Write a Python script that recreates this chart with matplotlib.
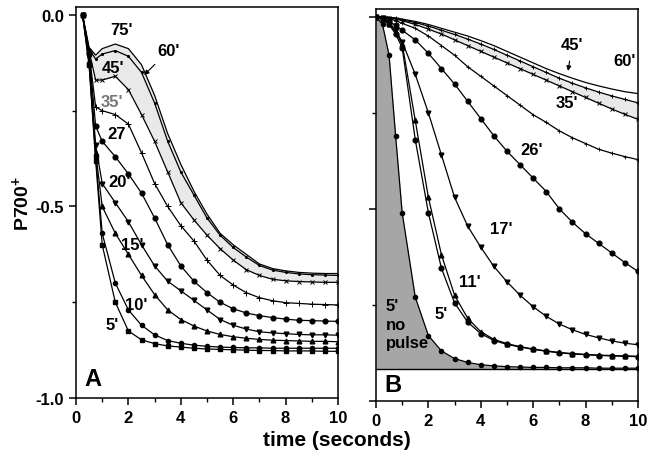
import numpy as np
import matplotlib
matplotlib.use('Agg')
import matplotlib.pyplot as plt
from matplotlib.ticker import MultipleLocator

plt.rcParams['font.family'] = ['Liberation Sans', 'DejaVu Sans']
plt.rcParams['font.weight'] = 'bold'
plt.rcParams['mathtext.fontset'] = 'custom'
plt.rcParams['mathtext.rm'] = 'Liberation Sans:bold'
plt.rcParams['mathtext.bf'] = 'Liberation Sans:bold'

# ---- panel A data (time in s, P700+ signal) ----
t_a = [0.25, 0.5, 0.75, 1.0, 1.5, 2.0, 2.5, 3.0, 3.5, 4.0, 4.5,
       5.0, 5.5, 6.0, 6.5, 7.0, 7.5, 8.0, 8.5, 9.0, 9.5, 10.0]
a_75 = [0, -0.085, -0.105, -0.088, -0.076, -0.088, -0.13, -0.21, -0.31, -0.39, -0.46,
        -0.52, -0.57, -0.60, -0.625, -0.65, -0.662, -0.668, -0.672, -0.674, -0.675, -0.675]
a_60 = [0, -0.09, -0.115, -0.102, -0.093, -0.108, -0.15, -0.23, -0.33, -0.41, -0.47,
        -0.53, -0.575, -0.607, -0.632, -0.654, -0.666, -0.672, -0.676, -0.678, -0.679, -0.68]
a_45 = [0, -0.095, -0.17, -0.17, -0.16, -0.195, -0.26, -0.33, -0.41, -0.49, -0.535,
        -0.575, -0.61, -0.64, -0.665, -0.68, -0.69, -0.694, -0.696, -0.697, -0.698, -0.698]
a_35 = [0, -0.10, -0.24, -0.25, -0.26, -0.285, -0.36, -0.44, -0.50, -0.55, -0.59,
        -0.64, -0.68, -0.705, -0.725, -0.738, -0.746, -0.751, -0.753, -0.755, -0.756, -0.757]
a_27 = [0, -0.10, -0.29, -0.33, -0.37, -0.415, -0.465, -0.53, -0.60, -0.655, -0.695,
        -0.725, -0.75, -0.767, -0.778, -0.785, -0.79, -0.794, -0.797, -0.798, -0.799, -0.80]
a_20 = [0, -0.11, -0.34, -0.44, -0.49, -0.54, -0.60, -0.655, -0.695, -0.72, -0.745,
        -0.77, -0.795, -0.81, -0.82, -0.827, -0.83, -0.832, -0.834, -0.835, -0.835, -0.836]
a_15 = [0, -0.12, -0.36, -0.50, -0.57, -0.625, -0.68, -0.73, -0.77, -0.795, -0.812,
        -0.825, -0.834, -0.84, -0.844, -0.847, -0.849, -0.85, -0.851, -0.852, -0.852, -0.853]
a_10 = [0, -0.13, -0.37, -0.57, -0.70, -0.77, -0.81, -0.835, -0.85, -0.857, -0.862,
        -0.865, -0.867, -0.868, -0.869, -0.869, -0.87, -0.87, -0.87, -0.87, -0.87, -0.87]
a_5 = [0, -0.13, -0.38, -0.60, -0.75, -0.825, -0.848, -0.858, -0.864, -0.867, -0.870,
       -0.872, -0.873, -0.874, -0.875, -0.876, -0.876, -0.877, -0.877, -0.877, -0.878, -0.878]

# ---- panel B data ----
t_b = [0, 0.25, 0.5, 0.75, 1.0, 1.5, 2.0, 2.5, 3.0, 3.5, 4.0, 4.5,
       5.0, 5.5, 6.0, 6.5, 7.0, 7.5, 8.0, 8.5, 9.0, 9.5, 10.0]
b_nopulse = [0, -0.02, -0.10, -0.31, -0.51, -0.73, -0.83, -0.87, -0.89, -0.90, -0.906, -0.909,
             -0.911, -0.912, -0.913, -0.913, -0.914, -0.914, -0.914, -0.915, -0.915, -0.915, -0.915]
b_5 = [0, -0.005, -0.02, -0.045, -0.08, -0.32, -0.51, -0.655, -0.745, -0.795, -0.825, -0.843,
       -0.853, -0.86, -0.866, -0.871, -0.875, -0.878, -0.88, -0.882, -0.883, -0.884, -0.885]
b_11 = [0, -0.005, -0.018, -0.04, -0.07, -0.27, -0.47, -0.62, -0.725, -0.785, -0.82, -0.84,
        -0.851, -0.859, -0.865, -0.87, -0.874, -0.877, -0.879, -0.881, -0.882, -0.883, -0.884]
b_17 = [0, -0.003, -0.015, -0.035, -0.065, -0.15, -0.25, -0.36, -0.47, -0.545, -0.60, -0.65,
        -0.69, -0.725, -0.755, -0.78, -0.80, -0.815, -0.827, -0.836, -0.844, -0.85, -0.854]
b_26 = [0, -0.005, -0.012, -0.022, -0.035, -0.06, -0.095, -0.135, -0.175, -0.22, -0.265, -0.31,
        -0.35, -0.385, -0.42, -0.455, -0.50, -0.535, -0.565, -0.59, -0.615, -0.64, -0.663]
b_35 = [0, -0.002, -0.005, -0.01, -0.017, -0.03, -0.05, -0.075, -0.10, -0.13, -0.155, -0.18,
        -0.205, -0.23, -0.255, -0.275, -0.297, -0.315, -0.33, -0.345, -0.355, -0.364, -0.372]
b_45x = [0, -0.001, -0.003, -0.006, -0.01, -0.02, -0.032, -0.045, -0.06, -0.075, -0.09, -0.105,
         -0.12, -0.135, -0.15, -0.165, -0.18, -0.195, -0.21, -0.225, -0.24, -0.254, -0.267]
b_45 = [0, 0, -0.002, -0.004, -0.008, -0.015, -0.024, -0.035, -0.046, -0.058, -0.071, -0.085,
        -0.10, -0.115, -0.13, -0.145, -0.16, -0.173, -0.185, -0.196, -0.206, -0.215, -0.224]
b_60 = [0, 0, -0.001, -0.003, -0.006, -0.012, -0.02, -0.03, -0.04, -0.05, -0.062, -0.075,
        -0.09, -0.105, -0.12, -0.135, -0.148, -0.16, -0.171, -0.18, -0.188, -0.195, -0.20]
b_floor = -0.916

fig = plt.figure(figsize=(6.48, 4.64), dpi=100)
axA = fig.add_axes([0.1173, 0.140, 0.4043, 0.843])
axB = fig.add_axes([0.5802, 0.134, 0.4043, 0.845])

lw = 0.9
ms = 3.4

def style(ax):
    ax.set_xlim(0, 10)
    ax.set_ylim(-1.0, 0.021)
    ax.xaxis.set_major_locator(MultipleLocator(2))
    ax.xaxis.set_minor_locator(MultipleLocator(1))
    ax.yaxis.set_major_locator(MultipleLocator(0.5))
    ax.yaxis.set_minor_locator(MultipleLocator(0.25))
    ax.tick_params(which='major', direction='out', length=5, width=1.1, labelsize=12)
    ax.tick_params(which='minor', direction='out', length=3, width=1.0)
    for s in ax.spines.values():
        s.set_linewidth(1.1)

# panel A
axA.fill_between(t_a, a_45, a_75, color='#e9e9e9', lw=0, zorder=1)
axA.plot(t_a, a_75, '-', color='k', lw=lw, zorder=3)
axA.plot(t_a, a_60, '-', color='k', lw=lw, marker='.', ms=2.5, zorder=3)
axA.plot(t_a, a_45, '-', color='k', lw=lw, marker='x', ms=3.5, mew=0.7, zorder=3)
axA.plot(t_a, a_35, '-', color='k', lw=lw, marker='+', ms=4, mew=0.7, zorder=3)
axA.plot(t_a, a_27, '-', color='k', lw=lw, marker='o', ms=ms, zorder=3)
axA.plot(t_a, a_20, '-', color='k', lw=lw, marker='v', ms=ms, zorder=3)
axA.plot(t_a, a_15, '-', color='k', lw=lw, marker='^', ms=ms, zorder=3)
axA.plot(t_a, a_10, '-', color='k', lw=lw, marker='o', ms=3, zorder=3)
axA.plot(t_a, a_5, '-', color='k', lw=lw, marker='s', ms=3.2, zorder=3)
style(axA)
axA.set_yticks([0.0, -0.5, -1.0])
axA.set_yticklabels(['0.0', '-0.5', '-1.0'])
for lab in axA.get_xticklabels() + axA.get_yticklabels():
    lab.set_fontweight('bold')
axA.set_ylabel(r'P700$^{+}$', fontsize=14, fontweight='bold', labelpad=2)

fs = 12
labelsA = [("75'", 1.75, -0.037), ("45'", 1.42, -0.136), ("27", 1.55, -0.31),
           ("20'", 1.68, -0.436), ("15'", 2.15, -0.60), ("10'", 2.3, -0.755),
           ("5'", 1.37, -0.807)]
for txt, x, y in labelsA:
    axA.text(x, y, txt, fontsize=fs, fontweight='bold', ha='center', va='center', zorder=5)
axA.text(1.37, -0.225, "35'", fontsize=fs, fontweight='bold', ha='center', va='center',
         color='#777777', zorder=5)
axA.annotate("60'", xy=(2.6, -0.157), xytext=(3.55, -0.092), fontsize=fs, fontweight='bold',
             ha='center', va='center', zorder=5,
             arrowprops=dict(arrowstyle='-|>', color='k', lw=0.8, mutation_scale=7,
                             shrinkA=4, shrinkB=0))
axA.text(0.65, -0.95, 'A', fontsize=17, fontweight='bold', ha='center', va='center')

# panel B
axB.fill_between(t_b, b_nopulse, b_floor, color='#a6a6a6', lw=0, zorder=1)
axB.fill_between(t_b, b_45x, b_45, color='#e9e9e9', lw=0, zorder=1)
axB.axhline(b_floor, color='k', lw=1.0, zorder=2)
axB.plot(t_b, b_60, '-', color='k', lw=lw, zorder=3)
axB.plot(t_b, b_45, '-', color='k', lw=lw, marker='+', ms=3.5, mew=0.7, zorder=3)
axB.plot(t_b, b_45x, '-', color='k', lw=lw, marker='x', ms=3.5, mew=0.7, zorder=3)
axB.plot(t_b, b_35, '-', color='k', lw=lw, marker='+', ms=3, mew=0.6, zorder=3)
axB.plot(t_b, b_26, '-', color='k', lw=lw, marker='o', ms=ms, zorder=3)
axB.plot(t_b, b_17, '-', color='k', lw=lw, marker='v', ms=ms, zorder=3)
axB.plot(t_b, b_11, '-', color='k', lw=lw, marker='^', ms=ms, zorder=3)
axB.plot(t_b, b_5, '-', color='k', lw=lw, marker='o', ms=ms, zorder=3)
axB.plot(t_b, b_nopulse, '-', color='k', lw=lw, marker='o', ms=3, zorder=3)
style(axB)
axB.set_yticks([0.0, -0.5, -1.0])
axB.set_yticklabels([])
for lab in axB.get_xticklabels():
    lab.set_fontweight('bold')

labelsB = [("60'", 9.5, -0.115), ("35'", 7.3, -0.224), ("26'", 5.95, -0.345),
           ("17'", 4.8, -0.55), ("11'", 3.6, -0.69), ("5'", 2.5, -0.773)]
for txt, x, y in labelsB:
    axB.text(x, y, txt, fontsize=fs, fontweight='bold', ha='center', va='center', zorder=5)
axB.annotate("45'", xy=(7.33, -0.141), xytext=(7.5, -0.071), fontsize=fs, fontweight='bold',
             ha='center', va='center', zorder=5,
             arrowprops=dict(arrowstyle='-|>', color='k', lw=0.8, mutation_scale=7,
                             shrinkA=5, shrinkB=0))
axB.text(0.38, -0.80, "5'\nno\npulse", fontsize=fs, fontweight='bold', ha='left', va='center',
         linespacing=1.3, zorder=5)
axB.text(0.65, -0.958, 'B', fontsize=17, fontweight='bold', ha='center', va='center')

fig.text(0.52, 0.03, 'time (seconds)', fontsize=15, fontweight='bold', ha='center', va='bottom')

fig.savefig('out.png', dpi=100)
